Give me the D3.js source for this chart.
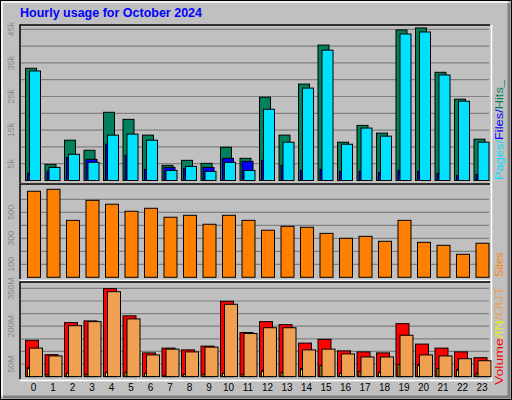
<!DOCTYPE html>
<html><head><meta charset="utf-8">
<script src="https://cdn.jsdelivr.net/npm/d3@7"></script>
<style>body{margin:0;background:#fff}svg{display:block;font-family:"Liberation Sans",Arial,sans-serif}</style>
</head><body><svg id="c" width="512" height="400"></svg>
<script>
const hours=d3.range(24).map(String);
const hits=[33400,4800,12000,9000,20300,18200,13500,4500,6000,5100,9900,6600,24800,13500,28700,40300,11400,16400,14100,44800,45400,32200,24200,12300];
const files=[2200,2800,6900,6300,10800,7500,3300,3900,3600,3900,6600,5700,6000,4500,3000,3300,2700,2700,2400,3000,2700,2100,1500,1800];
const pages=[32600,3900,7800,5400,13500,13800,12000,3000,4200,2700,5400,3000,21200,11400,27500,38800,10800,15600,13200,43600,44200,31400,23600,11400];
const sites=[662,677,438,592,562,508,531,462,477,408,477,438,362,392,385,338,300,315,277,438,269,246,177,262];
const volume=[144,87,214,221,349,241,94,113,106,121,299,175,218,206,133,148,102,98,94,210,129,113,98,75];
const kin=[36,9,13,9,17,17,13,5,9,9,13,9,24,17,32,44,13,20,17,48,48,32,28,13];
const kout=[113,82,202,218,337,229,86,109,98,117,287,171,194,194,106,109,90,78,78,164,86,82,71,63];
const topTicks=["5k","15k","25k","35k","45k"],siteTicks=["100","300","500"],volTicks=["50M","200M","350M"];

const svg=d3.select("#c");
svg.append("rect").attr("x",0.5).attr("y",0.5).attr("width",511).attr("height",399).attr("fill","#C0C0C0").attr("stroke","#000");
svg.append("path").attr("d","M509,3V397H3").attr("fill","none").attr("stroke","#808080").attr("stroke-width",3);
svg.append("path").attr("d","M2,396V2H508").attr("fill","none").attr("stroke","#fff").attr("stroke-width",1.5);
svg.append("text").attr("x",20).attr("y",17).attr("fill","#0000FF").attr("font-weight","bold").attr("font-size",12.5).text("Hourly usage for October 2024");

const x=d3.scaleBand().domain(hours).range([20,488]).paddingInner(0).paddingOuter(0);
const L=20,R=490;
function panel(y0,y1){
  svg.append("rect").attr("x",L).attr("y",y0).attr("width",R-L).attr("height",y1-y0).attr("fill","#C0C0C0");
  svg.append("path").attr("d",`M${L},${y1}V${y0}H${R}`).attr("fill","none").attr("stroke","#000").attr("stroke-width",1.5);
  svg.append("path").attr("d",`M${L},${y1+1.5}H${R+1.5}V${y0}`).attr("fill","none").attr("stroke","#fff").attr("stroke-width",1.5);
}
function grid(scale,vals,labels,labVals){
  vals.forEach(v=>svg.append("line").attr("x1",L+1).attr("x2",R-1).attr("y1",scale(v)).attr("y2",scale(v)).attr("stroke","#808080").attr("stroke-width",1.2));
  labels.forEach((t,i)=>svg.append("text").attr("transform",`translate(14,${scale(labVals[i])}) rotate(-90)`).attr("text-anchor","middle").attr("fill","#8c8c8c").attr("font-size",9).text(t));
}
function bars(data,scale,dx,w,color){
  svg.append("g").selectAll("rect").data(data).join("rect")
   .attr("x",(d,i)=>x(hours[i])+dx).attr("width",w)
   .attr("y",d=>scale(d)).attr("height",d=>scale(0)-scale(d))
   .attr("fill",color).attr("stroke","#000").attr("stroke-width",1);
}
panel(25,183);
const yT=d3.scaleLinear().domain([0,45000]).range([180.5,29.3]);
grid(yT,d3.range(5000,45001,5000),topTicks,[5000,15000,25000,35000,45000]);
bars(hits,yT,5.5,11,"#00805C");
bars(files,yT,7.5,11,"#0000FF");
bars(pages,yT,9.5,11,"#00E0FF");
panel(184,279);
const yS=d3.scaleLinear().domain([0,100]).range([277.3,264.3]);
grid(yS,d3.range(100,601,100),siteTicks,[100,300,500]);
bars(sites,yS,7.5,13,"#FF8000");
panel(282,379);
const yV=d3.scaleLinear().domain([0,50]).range([376.6,364]);
grid(yV,d3.range(50,351,50),volTicks,[50,200,350]);
bars(volume,yV,5.5,13,"#FF0000");
bars(kin,yV,7.5,2,"#EFEF00");
bars(kout,yV,9.5,13,"#EFA050");
svg.append("g").selectAll("text").data(hours).join("text")
 .attr("x",d=>x(d)+13.5).attr("y",391).attr("text-anchor","middle").attr("font-size",10).attr("fill","#000").text(d=>d);
function legend(yBottom,len,parts){
  const t=svg.append("text").attr("transform",`translate(503,${yBottom}) rotate(-90)`).attr("font-size",11.5)
    .attr("textLength",len).attr("lengthAdjust","spacingAndGlyphs");
  parts.forEach(p=>t.append("tspan").attr("fill",p[1]).text(p[0]));
}
legend(180,100,[["Pages","#00E0FF"],["/","#00E0FF"],["Files","#0000FF"],["/","#0000FF"],["Hits_","#00805C"]]);
legend(277,25,[["Sites","#FF8000"]]);
legend(385,98,[["Volume","#FF0000"],["/IN","#EFEF00"],["/OUT","#EFA050"]]);
</script></body></html>
